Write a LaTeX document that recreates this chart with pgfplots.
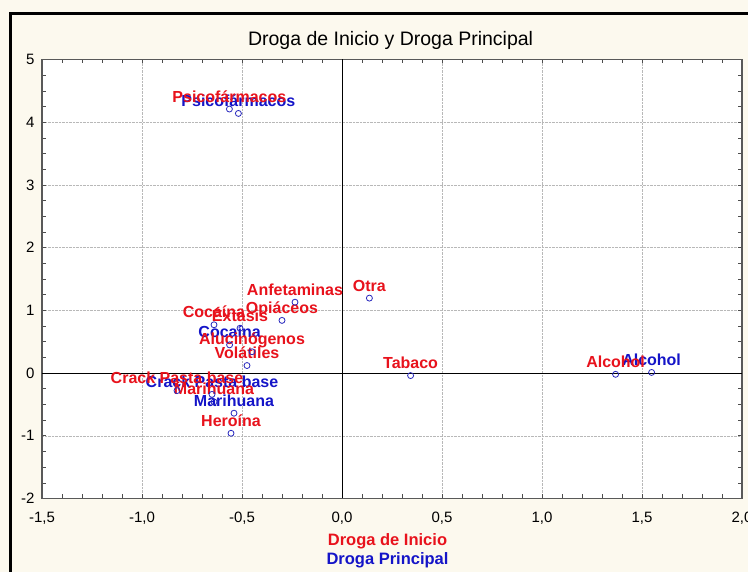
\documentclass[border=0pt]{standalone}
\usepackage{pgfplots}
\pgfplotsset{compat=1.18}
\usepackage{pgfplotstable}
\usepackage{fontspec}
\setmainfont{Liberation Sans}

\definecolor{inicio}{RGB}{232,18,28}
\definecolor{principal}{RGB}{20,20,200}
\definecolor{marca}{RGB}{40,40,190}
\definecolor{fondo}{RGB}{252,249,238}

% Coordenadas de las categorias: droga de inicio
\pgfplotstableread[col sep=comma]{
x,y,label
-0.563,4.21,Psicofármacos
-0.235,1.13,Anfetaminas
0.137,1.195,Otra
-0.640,0.77,Cocaína
-0.300,0.84,Opiáceos
-0.510,0.715,Éxtasis
-0.450,0.34,Alucinógenos
-0.475,0.12,Volátiles
0.343,-0.04,Tabaco
1.368,-0.02,Alcohol
-0.825,-0.28,Crack Pasta base
-0.640,-0.46,Marihuana
-0.555,-0.96,Heroína
}\tabinicio

% Coordenadas de las categorias: droga principal
\pgfplotstableread[col sep=comma]{
x,y,label
-0.518,4.14,Psicofármacos
-0.562,0.45,Cocaína
1.548,0.01,Alcohol
-0.650,-0.34,Crack Pasta base
-0.540,-0.64,Marihuana
}\tabprincipal

\begin{document}
\begin{tikzpicture}
\path[use as bounding box, fill=fondo] (0pt,0pt) rectangle (748pt,572pt);
\draw[line width=3pt, black] (10pt,-20pt) -- (10pt,558.5pt) -- (780pt,558.5pt);

\begin{axis}[
  at={(42pt,73.5pt)}, anchor=south west,
  scale only axis, width=700pt, height=439pt,
  xmin=-1.5, xmax=2, ymin=-2, ymax=5,
  xtick={-1.5,-1,-0.5,0,0.5,1,1.5,2},
  ytick={-2,-1,0,1,2,3,4,5},
  minor x tick num=4, minor y tick num=3,
  tick align=inside, tick pos=both,
  major tick length=4pt, minor tick length=4pt,
  every tick/.style={black!70, line width=0.6pt},
  grid=major,
  major grid style={densely dotted, black!28, line width=0.5pt},
  axis line style={black!65, line width=1.2pt},
  axis background/.style={fill=white},
  clip=false,
  /pgf/number format/assume math mode=true,
  tick label style={font=\fontsize{15}{18}\selectfont},
  xticklabel style={anchor=base, yshift=-24.5pt,
    /pgf/number format/.cd, fixed, fixed zerofill, precision=1, use comma},
  yticklabel style={xshift=-4pt},
  title={Droga de Inicio y Droga Principal},
  title style={font=\fontsize{19.5}{22}\selectfont,
    at={(axis description cs:0.498,1)}, anchor=base, yshift=7.5pt},
]
% ejes de referencia en el origen
\addplot[black, line width=0.8pt, forget plot] coordinates {(0,-2) (0,5)};
\addplot[black, line width=0.8pt, forget plot] coordinates {(-1.5,0) (2,0)};

% etiquetas
\addplot[draw=none, mark=none, point meta=explicit symbolic,
  nodes near coords,
  every node near coord/.style={anchor=base, yshift=7pt, inner sep=0pt,
    text=principal, font=\bfseries\fontsize{16}{19}\selectfont}]
  table[x=x, y=y, meta=label] {\tabprincipal};
\addplot[draw=none, mark=none, point meta=explicit symbolic,
  nodes near coords,
  every node near coord/.style={anchor=base, yshift=7pt, inner sep=0pt,
    text=inicio, font=\bfseries\fontsize{16}{19}\selectfont}]
  table[x=x, y=y, meta=label] {\tabinicio};

% puntos
\addplot[only marks, mark=o, mark size=3pt, marca, line width=0.8pt]
  table[x=x, y=y] {\tabprincipal};
\addplot[only marks, mark=o, mark size=3pt, marca, line width=0.8pt]
  table[x=x, y=y] {\tabinicio};
\end{axis}

\node[anchor=base, text=inicio, font=\bfseries\fontsize{16.5}{19}\selectfont]
  at (387.5pt,26pt) {Droga de Inicio};
\node[anchor=base, text=principal, font=\bfseries\fontsize{16.5}{19}\selectfont]
  at (387.5pt,7pt) {Droga Principal};
\end{tikzpicture}
\end{document}
